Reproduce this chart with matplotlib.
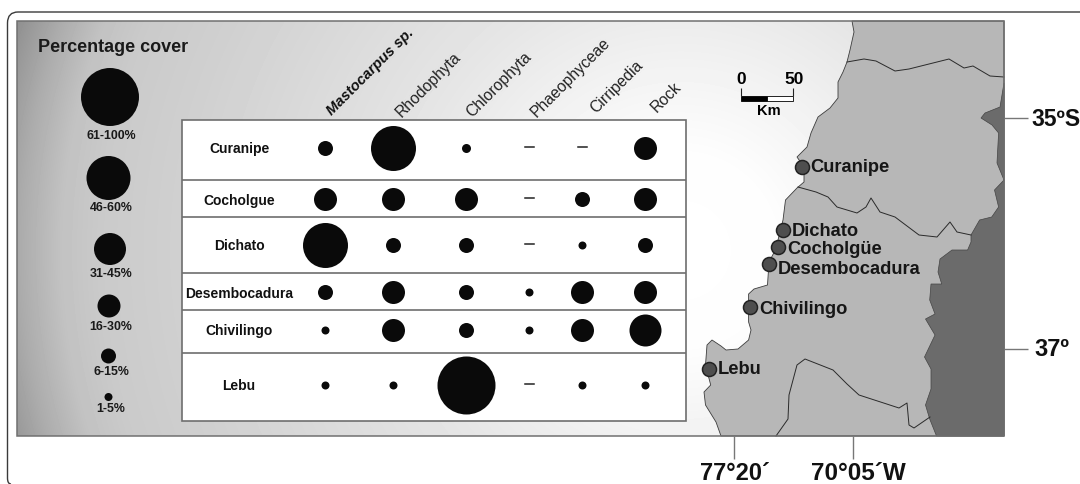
#! /bin/python3

import numpy as np
from matplotlib import pyplot as plt
from matplotlib.patches import Polygon, Rectangle
from matplotlib.path import Path
from matplotlib.patches import PathPatch

# bubble diameters by cover class (0 = dash in the table)
sites = ["Curanipe", "Cocholgue", "Dichato", "Desembocadura", "Chivilingo", "Lebu"]
groups = ["Mastocarpus sp.", "Rhodophyta", "Chlorophyta", "Phaeophyceae", "Cirripedia", "Rock"]
mastocarpus = [15, 23, 45, 15, 8, 8]
rhodophyta = [45, 23, 15, 23, 23, 8]
chlorophyta = [9, 23, 15, 15, 15, 58]
phaeophyceae = [0, 0, 0, 8, 8, 0]
cirripedia = [0, 15, 8, 23, 23, 8]
rock = [23, 23, 15, 23, 32, 8]

legend_labels = ["61-100%", "46-60%", "31-45%", "16-30%", "6-15%", "1-5%"]
legend_sizes = [58, 44, 32, 23, 15, 8]

map_sites = ["Curanipe", "Dichato", "Cocholgüe", "Desembocadura", "Chivilingo", "Lebu"]
map_x = [802, 783, 778, 769, 750, 709]
map_y = [167, 230, 247, 264, 307, 369]

# layout, in picture pixels
PANEL = (16.5, 21, 1004, 436)
TABLE_X = (182, 686)
ROW_LINES = [120, 180, 217, 273, 310, 353, 421]
ROW_Y = [148, 199, 245, 292, 330, 385]
COL_X = [325, 393, 466, 529, 582, 645]
LEGEND_Y = [97, 178, 249, 306, 356, 397]
LEGEND_X = [110, 108.5, 110, 109, 108.5, 108.5]
LEGEND_TEXT_Y = [136, 208, 274, 327, 372, 409]
HEAD_X = [329, 398, 469, 533, 593, 654]
HEAD_Y = [113, 115, 115, 115, 111, 110]
MAP_LABEL_X = [810, 792, 787, 778, 759, 718]
MAP_LABEL_Y = [167, 231, 249, 270, 310, 369]

coast = [(852, 21), (854, 32), (850, 50), (847, 62), (843, 72), (838, 82), (838, 98),
         (830, 108), (818, 117), (811, 133), (807, 147), (797, 157), (804, 167),
         (804, 182), (797, 188), (785.5, 200), (783, 220), (778, 240), (778, 245),
         (769, 262), (767.5, 285), (754, 289), (748.6, 294), (748.6, 307), (748.6, 322),
         (751, 330), (748.6, 340), (738, 349), (726, 350), (721, 346), (712, 340),
         (707, 345), (705.5, 365), (710.7, 385), (704, 392), (705.5, 405), (716, 422),
         (721, 436)]
andes = [(1004, 83), (1000, 107), (985, 113), (981, 118), (992, 125), (998.6, 133),
         (997, 163), (1004, 180), (994.5, 190), (998.6, 207), (991.7, 217), (979.6, 220),
         (971, 235), (971, 242), (967.6, 250), (952, 250), (940, 259), (938, 272),
         (941.7, 284), (931, 284), (929.7, 300), (935, 314), (925.5, 319), (935, 335),
         (924.5, 357), (931, 369), (931, 389), (925.5, 405), (929.7, 419), (936.5, 436),
         (1004, 436)]
border_north = [(847, 62), (864, 59), (876, 61), (895, 71), (909, 69), (933, 63), (949, 59),
                (964, 68), (973, 66), (990, 76), (1004, 77)]
border_mid = [(798, 187), (816, 192), (828, 197), (837, 207), (857, 213), (866, 207),
              (871, 198), (880, 212), (895, 217), (919, 235), (937, 237), (950, 222),
              (957, 232), (971, 235)]
border_south = [(776, 436), (788, 419), (789, 395), (797, 365), (805, 359), (833, 370),
                (847, 384), (859, 395), (899, 408), (907, 403), (909, 425), (914, 428),
                (930, 417)]

DARK = "#0a0a0a"
LINE = "#6e6e6e"


def px_area(diameter):
    # scatter wants points^2, figure is 100 dpi
    return (np.asarray(diameter) * 0.72) ** 2


def draw_background(ax):
    x0, y0, x1, y1 = PANEL
    xx, yy = np.meshgrid(np.arange(x0, x1), np.arange(y0, y1))
    r = np.hypot(xx - 680, yy - 250)
    shade = np.interp(r, [0, 100, 276, 500, 580, 620, 660, 700],
                      [255, 253, 230, 208, 202, 194, 172, 145])
    ax.imshow(shade, cmap="gray", vmin=0, vmax=255, extent=(x0, x1, y1, y0),
              aspect="auto", zorder=1)
    ax.add_patch(Polygon(coast + [(1004, 436), (1004, 21)], fc="#b7b7b7", ec="#3c3c3c",
                         lw=0.6, zorder=2))
    ax.add_patch(Polygon(andes, fc="#6b6b6b", ec="#444444", lw=0.5, zorder=3))
    for line in (border_north, border_mid, border_south):
        xs, ys = zip(*line)
        ax.plot(xs, ys, color="#2a2a2a", lw=0.7, zorder=4)
    ax.add_patch(Rectangle((x0, y0), x1 - x0, y1 - y0, fc="none", ec="#707070", lw=1.1, zorder=5))


def draw_frame(ax):
    verts = [(1080, 12), (18, 12), (7.5, 12), (7.5, 23), (7.5, 478), (7.5, 484), (11, 484)]
    codes = [Path.MOVETO, Path.LINETO, Path.CURVE3, Path.CURVE3, Path.LINETO, Path.CURVE3, Path.CURVE3]
    ax.add_patch(PathPatch(Path(verts, codes), fc="none", ec="#3a3a3a", lw=1.0, zorder=6))


def draw_legend(ax):
    ax.text(38, 47, "Percentage cover", fontsize=13, fontweight="bold", color="#1a1a1a",
            ha="left", va="center", zorder=7)
    ax.scatter(LEGEND_X, LEGEND_Y, s=px_area(legend_sizes), color=DARK, lw=0, zorder=7)
    for y, label in zip(LEGEND_TEXT_Y, legend_labels):
        ax.text(111, y, label, fontsize=8.9, fontweight="bold", color="#1a1a1a",
                ha="center", va="center", zorder=7)


def draw_table(ax):
    x0, x1 = TABLE_X
    ax.add_patch(Rectangle((x0, ROW_LINES[0]), x1 - x0, ROW_LINES[-1] - ROW_LINES[0],
                           fc="white", ec=LINE, lw=1.2, zorder=6))
    ax.hlines(ROW_LINES[1:-1], x0, x1, color=LINE, lw=1.2, zorder=7)

    columns = [mastocarpus, rhodophyta, chlorophyta, phaeophyceae, cirripedia, rock]
    for x, values in zip(COL_X, columns):
        for y, value in zip(ROW_Y, values):
            if value:
                ax.scatter(x, y, s=px_area(value), color=DARK, lw=0, zorder=8)
            else:
                ax.plot([x - 4.5, x + 4.5], [y - 1, y - 1], color="#222222", lw=1.1, zorder=8)

    for y, site in zip(ROW_Y, sites):
        ax.text(239, y + 1.5, site, fontsize=10, fontweight="bold", color="#111111",
                ha="center", va="center", zorder=8)

    for x, y, group in zip(HEAD_X, HEAD_Y, groups):
        if group.startswith("Mastocarpus"):
            ax.text(x, y, group, fontsize=10.6, fontweight="bold", style="italic", color="#111111",
                    rotation=45, rotation_mode="anchor", ha="left", va="center", zorder=8)
        else:
            ax.text(x, y, group, fontsize=11.3, color="#222222",
                    rotation=45, rotation_mode="anchor", ha="left", va="center", zorder=8)


def draw_map_marks(ax):
    ax.scatter(map_x, map_y, s=px_area(14), fc="#4e4e4e", ec="#222222", lw=1.1, zorder=8)
    for x, y, name in zip(MAP_LABEL_X, MAP_LABEL_Y, map_sites):
        ax.text(x, y, name, fontsize=13.2, fontweight="bold", color="#161616",
                ha="left", va="center", zorder=8)

    # scale bar
    ax.add_patch(Rectangle((741, 96), 26, 5, fc="black", ec="black", lw=0.6, zorder=8))
    ax.add_patch(Rectangle((767, 96), 26, 5, fc="white", ec="black", lw=0.6, zorder=8))
    ax.vlines([741, 793], 88, 96, color="#222222", lw=0.8, zorder=8)
    ax.text(741, 80, "0", fontsize=12.5, fontweight="bold", ha="center", va="center", zorder=8)
    ax.text(794, 80, "50", fontsize=12.5, fontweight="bold", ha="center", va="center", zorder=8)
    ax.text(769, 111, "Km", fontsize=10.5, fontweight="bold", ha="center", va="center", zorder=8)

    # graticule ticks and labels
    ax.hlines([118, 349], 1004, 1028, color="#777777", lw=1.0, zorder=8)
    ax.vlines([734, 853], 436, 459, color="#777777", lw=1.0, zorder=8)
    ax.text(1031, 119, "35ºS", fontsize=16.5, fontweight="bold", color="#111111",
            ha="left", va="center", zorder=8)
    ax.text(1034, 349, "37º", fontsize=17, fontweight="bold", color="#111111",
            ha="left", va="center", zorder=8)
    ax.text(735, 473, "77°20´", fontsize=17, fontweight="bold", color="#111111",
            ha="center", va="center", zorder=8)
    ax.text(858, 474, "70°05´W", fontsize=17.5, fontweight="bold", color="#111111",
            ha="center", va="center", zorder=8)


def main():
    plt.rcParams["font.family"] = ["Liberation Sans", "DejaVu Sans"]
    fig = plt.figure(figsize=(10.8, 4.84), dpi=100)
    ax = fig.add_axes([0, 0, 1, 1])

    draw_background(ax)
    draw_frame(ax)
    draw_legend(ax)
    draw_table(ax)
    draw_map_marks(ax)

    ax.set_xlim(0, 1080)
    ax.set_ylim(484, 0)
    ax.axis("off")

    fig.savefig("out.png", dpi=100)


if __name__ == "__main__":
    main()
